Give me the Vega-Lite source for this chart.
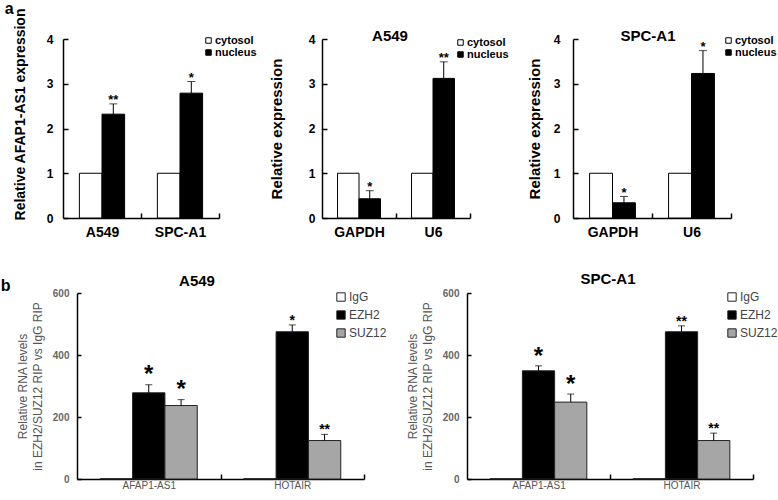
{
  "$schema": "https://vega.github.io/schema/vega-lite/v6.json",
  "padding": 0,
  "config": {
    "view": {"stroke": null},
    "font": "Liberation Sans",
    "axis": {"grid": false, "domainColor": "black", "tickColor": "black", "domainWidth": 1.5, "tickWidth": 1.5, "labelColor": "black", "titleColor": "black"},
    "title": {"color": "black"}
  },
  "datasets": {
    "p1": [
      {"group": "A549", "series": "cytosol", "value": 1},
      {"group": "A549", "series": "nucleus", "value": 2.32, "upper": 2.55, "sig": "**"},
      {"group": "SPC-A1", "series": "cytosol", "value": 1},
      {"group": "SPC-A1", "series": "nucleus", "value": 2.79, "upper": 3.05, "sig": "*"}
    ],
    "p2": [
      {"group": "GAPDH", "series": "cytosol", "value": 1},
      {"group": "GAPDH", "series": "nucleus", "value": 0.43, "upper": 0.61, "sig": "*"},
      {"group": "U6", "series": "cytosol", "value": 1},
      {"group": "U6", "series": "nucleus", "value": 3.12, "upper": 3.49, "sig": "**"}
    ],
    "p3": [
      {"group": "GAPDH", "series": "cytosol", "value": 1},
      {"group": "GAPDH", "series": "nucleus", "value": 0.34, "upper": 0.48, "sig": "*"},
      {"group": "U6", "series": "cytosol", "value": 1},
      {"group": "U6", "series": "nucleus", "value": 3.23, "upper": 3.74, "sig": "*"}
    ],
    "p4": [
      {"group": "AFAP1-AS1", "series": "IgG", "value": 1},
      {"group": "AFAP1-AS1", "series": "EZH2", "value": 278, "upper": 304, "sig": "*"},
      {"group": "AFAP1-AS1", "series": "SUZ12", "value": 237, "upper": 256, "sig": "*"},
      {"group": "HOTAIR", "series": "IgG", "value": 1},
      {"group": "HOTAIR", "series": "EZH2", "value": 475, "upper": 497, "sig": "*"},
      {"group": "HOTAIR", "series": "SUZ12", "value": 124, "upper": 144, "sig": "**"}
    ],
    "p5": [
      {"group": "AFAP1-AS1", "series": "IgG", "value": 1},
      {"group": "AFAP1-AS1", "series": "EZH2", "value": 349, "upper": 365, "sig": "*"},
      {"group": "AFAP1-AS1", "series": "SUZ12", "value": 248, "upper": 274, "sig": "*"},
      {"group": "HOTAIR", "series": "IgG", "value": 1},
      {"group": "HOTAIR", "series": "EZH2", "value": 475, "upper": 494, "sig": "**"},
      {"group": "HOTAIR", "series": "SUZ12", "value": 124, "upper": 148, "sig": "**"}
    ]
  },
  "columns": 1,
  "align": "none",
  "spacing": 33,
  "resolve": {"scale": {"fill": "independent", "xOffset": "independent"}, "legend": {"fill": "independent"}},
  "concat": [
    {
      "bounds": "flush",
      "spacing": 103,
      "resolve": {"scale": {"fill": "independent", "xOffset": "independent"}, "legend": {"fill": "independent"}},
      "hconcat": [
        {
          "width": 156, "height": 179,
          "data": {"name": "p1"},
          "title": {"text": "a", "anchor": "start", "frame": "bounds", "dx": -8.5, "dy": 9, "fontSize": 16, "fontWeight": "bold", "offset": 0},
          "encoding": {
            "x": {"field": "group", "type": "nominal", "sort": null, "scale": {"domain": ["A549", "SPC-A1"], "paddingInner": 0.42, "paddingOuter": 0.21},
              "axis": {"title": null, "labelAngle": 0, "labelFontSize": 14, "labelFontWeight": "bold", "labelPadding": 12, "bandPosition": 1, "tickExtra": false, "tickOffset": 16.38, "labelOffset": -16.38, "tickSize": -5}},
            "xOffset": {"field": "series", "type": "nominal", "scale": {"domain": ["cytosol", "nucleus"], "paddingInner": 0, "paddingOuter": 0}}
          },
          "layer": [
            {"mark": {"type": "bar", "stroke": "black", "strokeWidth": 1},
             "encoding": {
               "y": {"field": "value", "type": "quantitative", "scale": {"domain": [0, 4]},
                 "axis": {"values": [0, 1, 2, 3, 4], "title": "Relative AFAP1-AS1 expression", "titleFontSize": 14, "titleFontWeight": "bold", "titlePadding": 19, "titleY": 75, "labelFontSize": 12, "labelFontWeight": "bold", "labelPadding": 15, "tickSize": -5}},
               "fill": {"field": "series", "type": "nominal", "scale": {"domain": ["cytosol", "nucleus"], "range": ["white", "black"]},
                 "legend": {"orient": "none", "legendX": 140, "legendY": -4, "title": null, "labelFontSize": 11, "labelFontWeight": "bold", "labelColor": "black", "symbolType": "square", "symbolSize": 30, "symbolStrokeColor": "black", "symbolStrokeWidth": 1, "rowPadding": 0, "labelOffset": 1, "padding": 0}}
             }},
            {"transform": [{"filter": "datum.upper != null"}], "mark": {"type": "rule", "color": "black", "strokeWidth": 1},
             "encoding": {"y": {"field": "value", "type": "quantitative"}, "y2": {"field": "upper"}}},
            {"transform": [{"filter": "datum.upper != null"}], "mark": {"type": "tick", "orient": "horizontal", "size": 8, "thickness": 1, "color": "black"},
             "encoding": {"y": {"field": "upper", "type": "quantitative"}}},
            {"transform": [{"filter": "datum.upper != null"}], "mark": {"type": "text", "baseline": "alphabetic", "dy": 0, "fontSize": 13, "fontWeight": "bold", "color": "black"},
             "encoding": {"y": {"field": "upper", "type": "quantitative"}, "text": {"field": "sig"}}}
          ]
        },
        {
          "width": 148, "height": 179,
          "data": {"name": "p2"},
          "title": {"text": "A549", "anchor": "middle", "frame": "group", "dx": -6, "fontSize": 15, "fontWeight": "bold", "offset": -11},
          "encoding": {
            "x": {"field": "group", "type": "nominal", "sort": null, "scale": {"domain": ["GAPDH", "U6"], "paddingInner": 0.42, "paddingOuter": 0.21},
              "axis": {"title": null, "labelAngle": 0, "labelFontSize": 14, "labelFontWeight": "bold", "labelPadding": 12, "bandPosition": 1, "tickExtra": false, "tickOffset": 15.54, "labelOffset": -15.54, "tickSize": -5}},
            "xOffset": {"field": "series", "type": "nominal", "scale": {"domain": ["cytosol", "nucleus"], "paddingInner": 0, "paddingOuter": 0}}
          },
          "layer": [
            {"mark": {"type": "bar", "stroke": "black", "strokeWidth": 1},
             "encoding": {
               "y": {"field": "value", "type": "quantitative", "scale": {"domain": [0, 4]},
                 "axis": {"values": [0, 0.5, 1, 1.5, 2, 2.5, 3, 3.5, 4], "format": "~g", "title": "Relative expression", "titleFontSize": 15, "titleFontWeight": "bold", "titlePadding": 24, "labelFontSize": 12, "labelFontWeight": "bold", "labelPadding": 12, "tickSize": -5}},
               "fill": {"field": "series", "type": "nominal", "scale": {"domain": ["cytosol", "nucleus"], "range": ["white", "black"]},
                 "legend": {"orient": "none", "legendX": 133, "legendY": -2, "title": null, "labelFontSize": 11, "labelFontWeight": "bold", "labelColor": "black", "symbolType": "square", "symbolSize": 30, "symbolStrokeColor": "black", "symbolStrokeWidth": 1, "rowPadding": 0, "labelOffset": 1, "padding": 0}}
             }},
            {"transform": [{"filter": "datum.upper != null"}], "mark": {"type": "rule", "color": "black", "strokeWidth": 1},
             "encoding": {"y": {"field": "value", "type": "quantitative"}, "y2": {"field": "upper"}}},
            {"transform": [{"filter": "datum.upper != null"}], "mark": {"type": "tick", "orient": "horizontal", "size": 8, "thickness": 1, "color": "black"},
             "encoding": {"y": {"field": "upper", "type": "quantitative"}}},
            {"transform": [{"filter": "datum.upper != null"}], "mark": {"type": "text", "baseline": "alphabetic", "dy": 0, "fontSize": 13, "fontWeight": "bold", "color": "black"},
             "encoding": {"y": {"field": "upper", "type": "quantitative"}, "text": {"field": "sig"}}}
          ]
        },
        {
          "width": 158, "height": 179,
          "data": {"name": "p3"},
          "title": {"text": "SPC-A1", "anchor": "middle", "frame": "group", "dx": -4, "fontSize": 15, "fontWeight": "bold", "offset": -11},
          "encoding": {
            "x": {"field": "group", "type": "nominal", "sort": null, "scale": {"domain": ["GAPDH", "U6"], "paddingInner": 0.42, "paddingOuter": 0.21},
              "axis": {"title": null, "labelAngle": 0, "labelFontSize": 14, "labelFontWeight": "bold", "labelPadding": 12, "bandPosition": 1, "tickExtra": false, "tickOffset": 16.59, "labelOffset": -16.59, "tickSize": -5}},
            "xOffset": {"field": "series", "type": "nominal", "scale": {"domain": ["cytosol", "nucleus"], "paddingInner": 0, "paddingOuter": 0}}
          },
          "layer": [
            {"mark": {"type": "bar", "stroke": "black", "strokeWidth": 1},
             "encoding": {
               "y": {"field": "value", "type": "quantitative", "scale": {"domain": [0, 4]},
                 "axis": {"values": [0, 1, 2, 3, 4], "title": "Relative expression", "titleFontSize": 15, "titleFontWeight": "bold", "titlePadding": 11, "labelFontSize": 12, "labelFontWeight": "bold", "labelPadding": 18, "tickSize": -5}},
               "fill": {"field": "series", "type": "nominal", "scale": {"domain": ["cytosol", "nucleus"], "range": ["white", "black"]},
                 "legend": {"orient": "none", "legendX": 150, "legendY": -4, "title": null, "labelFontSize": 11, "labelFontWeight": "bold", "labelColor": "black", "symbolType": "square", "symbolSize": 30, "symbolStrokeColor": "black", "symbolStrokeWidth": 1, "rowPadding": 0, "labelOffset": 1, "padding": 0}}
             }},
            {"transform": [{"filter": "datum.upper != null"}], "mark": {"type": "rule", "color": "black", "strokeWidth": 1},
             "encoding": {"y": {"field": "value", "type": "quantitative"}, "y2": {"field": "upper"}}},
            {"transform": [{"filter": "datum.upper != null"}], "mark": {"type": "tick", "orient": "horizontal", "size": 8, "thickness": 1, "color": "black"},
             "encoding": {"y": {"field": "upper", "type": "quantitative"}}},
            {"transform": [{"filter": "datum.upper != null"}], "mark": {"type": "text", "baseline": "alphabetic", "dy": 0, "fontSize": 13, "fontWeight": "bold", "color": "black"},
             "encoding": {"y": {"field": "upper", "type": "quantitative"}, "text": {"field": "sig"}}}
          ]
        }
      ]
    },
    {
      "bounds": "flush",
      "spacing": 103,
      "resolve": {"scale": {"fill": "independent", "xOffset": "independent"}, "legend": {"fill": "independent"}},
      "title": {"text": "b", "anchor": "start", "frame": "bounds", "dx": -15.5, "dy": 26, "fontSize": 16, "fontWeight": "bold"},
      "hconcat": [
        {
          "width": 301, "height": 186,
          "data": {"name": "p4"},
          "title": {"text": "A549", "anchor": "middle", "frame": "group", "dx": -16.5, "fontSize": 15, "fontWeight": "bold", "offset": -1},
          "encoding": {
            "x": {"field": "group", "type": "nominal", "sort": null, "scale": {"domain": ["AFAP1-AS1", "HOTAIR"], "range": [14, 301], "paddingInner": 0.324, "paddingOuter": 0.162},
              "axis": {"title": null, "labelAngle": 0, "labelFontSize": 10, "labelColor": "#555555", "labelPadding": 6, "bandPosition": 1, "tickExtra": false, "tickOffset": 23.25, "labelOffset": -23.25, "tickSize": -5}},
            "xOffset": {"field": "series", "type": "nominal", "scale": {"domain": ["IgG", "EZH2", "SUZ12"], "paddingInner": 0, "paddingOuter": 0}}
          },
          "layer": [
            {"mark": {"type": "bar", "stroke": "#222222", "strokeWidth": 1},
             "encoding": {
               "y": {"field": "value", "type": "quantitative", "scale": {"domain": [0, 600]},
                 "axis": {"offset": -14, "values": [0, 100, 200, 300, 400, 500, 600], "title": ["Relative RNA levels", "in EZH2/SUZ12 RIP vs IgG RIP"], "titleFontSize": 12, "titleFontWeight": "normal", "titleColor": "#555555", "titleLineHeight": 15, "titlePadding": 8, "labelFontSize": 10, "labelFontWeight": "bold", "labelColor": "#666666", "labelPadding": 12, "tickSize": -4}},
               "fill": {"field": "series", "type": "nominal", "scale": {"domain": ["IgG", "EZH2", "SUZ12"], "range": ["white", "black", "#a6a6a6"]},
                 "legend": {"orient": "none", "legendX": 272, "legendY": -2, "title": null, "labelFontSize": 12, "labelColor": "#444444", "symbolType": "square", "symbolSize": 70, "symbolStrokeColor": "#222222", "symbolStrokeWidth": 1, "rowPadding": 4, "labelOffset": 2, "padding": 0}}
             }},
            {"transform": [{"filter": "datum.upper != null"}], "mark": {"type": "rule", "color": "black", "strokeWidth": 1},
             "encoding": {"y": {"field": "value", "type": "quantitative"}, "y2": {"field": "upper"}}},
            {"transform": [{"filter": "datum.upper != null"}], "mark": {"type": "tick", "orient": "horizontal", "size": 7, "thickness": 1, "color": "black"},
             "encoding": {"y": {"field": "upper", "type": "quantitative"}}},
            {"transform": [{"filter": "datum.upper != null && datum.group == 'AFAP1-AS1'"}], "mark": {"type": "text", "baseline": "alphabetic", "dy": -3, "fontSize": 24, "fontWeight": "bold", "color": "black"},
             "encoding": {"y": {"field": "upper", "type": "quantitative"}, "text": {"field": "sig"}}},
            {"transform": [{"filter": "datum.upper != null && datum.group == 'HOTAIR'"}], "mark": {"type": "text", "baseline": "alphabetic", "dy": 0, "fontSize": 14, "fontWeight": "bold", "color": "black"},
             "encoding": {"y": {"field": "upper", "type": "quantitative"}, "text": {"field": "sig"}}}
          ]
        },
        {
          "width": 286, "height": 186,
          "data": {"name": "p5"},
          "title": {"text": "SPC-A1", "anchor": "middle", "frame": "group", "dx": -2, "fontSize": 15, "fontWeight": "bold", "offset": 1},
          "encoding": {
            "x": {"field": "group", "type": "nominal", "sort": null, "scale": {"domain": ["AFAP1-AS1", "HOTAIR"], "paddingInner": 0.324, "paddingOuter": 0.162},
              "axis": {"title": null, "labelAngle": 0, "labelFontSize": 10, "labelColor": "#555555", "labelPadding": 6, "bandPosition": 1, "tickExtra": false, "tickOffset": 23.17, "labelOffset": -23.17, "tickSize": -5}},
            "xOffset": {"field": "series", "type": "nominal", "scale": {"domain": ["IgG", "EZH2", "SUZ12"], "paddingInner": 0, "paddingOuter": 0}}
          },
          "layer": [
            {"mark": {"type": "bar", "stroke": "#222222", "strokeWidth": 1},
             "encoding": {
               "y": {"field": "value", "type": "quantitative", "scale": {"domain": [0, 600]},
                 "axis": {"values": [0, 100, 200, 300, 400, 500, 600], "title": ["Relative RNA levels", "in EZH2/SUZ12 RIP vs IgG RIP"], "titleFontSize": 12, "titleFontWeight": "normal", "titleColor": "#555555", "titleLineHeight": 15, "titlePadding": 8, "labelFontSize": 10, "labelFontWeight": "bold", "labelColor": "#666666", "labelPadding": 12, "tickSize": -4}},
               "fill": {"field": "series", "type": "nominal", "scale": {"domain": ["IgG", "EZH2", "SUZ12"], "range": ["white", "black", "#a6a6a6"]},
                 "legend": {"orient": "none", "legendX": 259, "legendY": -2, "title": null, "labelFontSize": 12, "labelColor": "#444444", "symbolType": "square", "symbolSize": 70, "symbolStrokeColor": "#222222", "symbolStrokeWidth": 1, "rowPadding": 4, "labelOffset": 2, "padding": 0}}
             }},
            {"transform": [{"filter": "datum.upper != null"}], "mark": {"type": "rule", "color": "black", "strokeWidth": 1},
             "encoding": {"y": {"field": "value", "type": "quantitative"}, "y2": {"field": "upper"}}},
            {"transform": [{"filter": "datum.upper != null"}], "mark": {"type": "tick", "orient": "horizontal", "size": 7, "thickness": 1, "color": "black"},
             "encoding": {"y": {"field": "upper", "type": "quantitative"}}},
            {"transform": [{"filter": "datum.upper != null && datum.group == 'AFAP1-AS1'"}], "mark": {"type": "text", "baseline": "alphabetic", "dy": -2, "fontSize": 24, "fontWeight": "bold", "color": "black"},
             "encoding": {"y": {"field": "upper", "type": "quantitative"}, "text": {"field": "sig"}}},
            {"transform": [{"filter": "datum.upper != null && datum.group == 'HOTAIR'"}], "mark": {"type": "text", "baseline": "alphabetic", "dy": 0, "fontSize": 14, "fontWeight": "bold", "color": "black"},
             "encoding": {"y": {"field": "upper", "type": "quantitative"}, "text": {"field": "sig"}}}
          ]
        }
      ]
    }
  ]
}
